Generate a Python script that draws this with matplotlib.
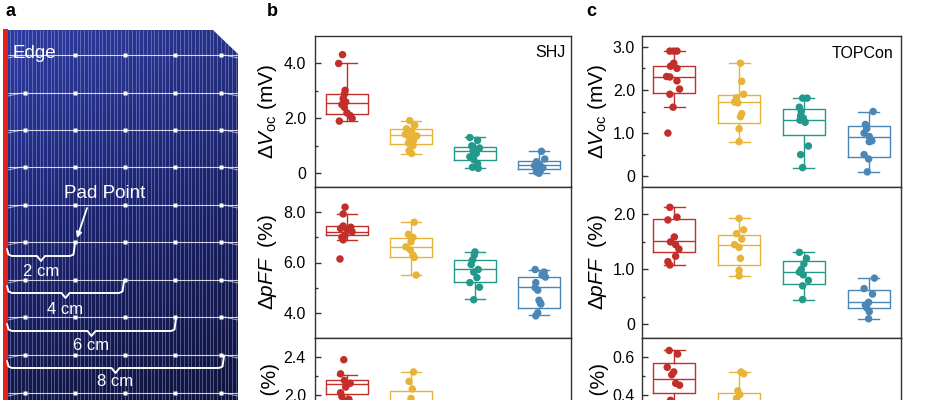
import numpy as np
import matplotlib
matplotlib.use('Agg')
import matplotlib.pyplot as plt
from matplotlib.patches import Polygon, Rectangle
from matplotlib.ticker import FixedLocator, FuncFormatter

plt.rcParams['font.family'] = ['Liberation Sans', 'DejaVu Sans']
plt.rcParams['mathtext.fontset'] = 'custom'
plt.rcParams['mathtext.rm'] = 'Liberation Sans'
plt.rcParams['mathtext.it'] = 'Liberation Sans:italic'
plt.rcParams['mathtext.bf'] = 'Liberation Sans:bold'

# ---------------- data ----------------
group_colors = ['#c22e2a', '#e7b437', '#22998a', '#4a87b6']

# SHJ  dVoc (mV)
shj_voc_pts = [
    [4.32, 4.0, 3.02, 2.88, 2.72, 2.6, 2.5, 2.4, 2.2, 2.1, 2.0, 1.9],
    [1.92, 1.75, 1.62, 1.52, 1.42, 1.36, 1.28, 1.2, 1.1, 1.0, 0.82, 0.72],
    [1.3, 1.2, 1.0, 0.92, 0.82, 0.72, 0.6, 0.5, 0.35, 0.22, 0.18],
    [0.8, 0.52, 0.42, 0.32, 0.28, 0.2, 0.15, 0.1, 0.05, 0.0],
]
shj_voc_dx = [
    [-0.07, -0.13, -0.03, -0.04, -0.06, -0.02, -0.08, -0.04, 0.0, 0.05, 0.08, -0.12],
    [-0.02, 0.06, -0.07, 0.01, -0.09, 0.09, -0.02, 0.04, -0.04, 0.03, -0.03, 0.01],
    [-0.08, 0.04, -0.05, 0.07, -0.03, 0.02, -0.08, -0.02, 0.04, -0.04, 0.05],
    [0.04, 0.09, -0.04, 0.01, -0.07, 0.06, -0.02, 0.02, -0.04, 0.0],
]
# box stats: (whisker low, q1, median, q3, whisker high)
shj_voc_box = [(1.9, 2.15, 2.56, 2.9, 4.0), (0.72, 1.05, 1.41, 1.62, 1.92),
               (0.2, 0.49, 0.8, 0.95, 1.32), (0.0, 0.16, 0.29, 0.45, 0.8)]

# SHJ  dpFF (%)
shj_pff_pts = [
    [8.2, 7.93, 7.45, 7.4, 7.35, 7.3, 7.22, 7.1, 7.0, 6.9, 6.14],
    [7.6, 7.12, 7.0, 6.82, 6.62, 6.5, 6.3, 6.2, 5.5],
    [6.42, 6.3, 6.1, 5.92, 5.72, 5.62, 5.4, 5.2, 5.02, 4.52],
    [5.72, 5.62, 5.5, 5.42, 5.2, 5.0, 4.9, 4.5, 4.4, 4.35, 4.0, 3.88],
]
shj_pff_dx = [
    [-0.03, -0.06, -0.06, 0.06, -0.1, 0.01, 0.08, -0.03, -0.08, -0.06, -0.11],
    [0.05, -0.04, 0.03, 0.0, -0.08, -0.01, 0.03, 0.05, 0.08],
    [0.0, -0.01, -0.04, -0.06, 0.05, -0.02, 0.03, -0.08, 0.07, -0.02],
    [-0.06, 0.08, 0.05, 0.1, -0.05, -0.06, -0.02, 0.0, 0.02, 0.03, -0.02, -0.05],
]
shj_pff_box = [(6.9, 7.08, 7.23, 7.47, 7.92), (5.5, 6.21, 6.62, 6.96, 7.6),
               (4.53, 5.22, 5.74, 6.09, 6.43), (3.9, 4.19, 5.03, 5.44, 5.7)]

# SHJ  third row (%)
shj_eff_pts = [
    [2.37, 2.22, 2.15, 2.12, 2.08, 2.02, 1.98, 1.95, 1.93],
    [2.24, 2.14, 2.06, 1.96, 1.9, 1.85, 1.78, 1.65],
    [1.75, 1.68, 1.6, 1.55, 1.5, 1.45, 1.4, 1.3],
    [1.5, 1.42, 1.38, 1.32, 1.28, 1.22, 1.15],
]
shj_eff_dx = [
    [-0.05, -0.1, -0.04, 0.05, -0.02, -0.1, -0.08, 0.03, -0.02],
    [0.04, -0.03, 0.02, 0.0, -0.05, 0.05, -0.02, 0.03],
    [0.03, -0.04, 0.05, -0.02, 0.02, -0.05, 0.04, 0.0],
    [0.04, -0.03, 0.05, -0.02, 0.02, -0.05, 0.0],
]
shj_eff_box = [(1.93, 2.01, 2.11, 2.15, 2.21), (1.6, 1.8, 1.92, 2.04, 2.24),
               (1.3, 1.42, 1.5, 1.6, 1.75), (1.15, 1.24, 1.3, 1.4, 1.5)]

# TOPCon  dVoc (mV)
top_voc_pts = [
    [2.9, 2.9, 2.9, 2.62, 2.55, 2.5, 2.31, 2.3, 2.21, 2.02, 1.9, 1.6, 1.0],
    [2.62, 2.2, 1.9, 1.82, 1.72, 1.7, 1.45, 1.38, 1.1, 0.8],
    [1.81, 1.81, 1.6, 1.5, 1.4, 1.35, 1.3, 1.25, 0.7, 0.5, 0.2],
    [1.5, 1.2, 1.1, 1.0, 0.92, 0.82, 0.8, 0.5, 0.4, 0.1],
]
top_voc_dx = [
    [-0.07, -0.01, 0.04, -0.01, -0.06, 0.04, -0.12, -0.07, 0.04, 0.08, -0.07, -0.02, -0.1],
    [0.02, 0.04, 0.07, -0.04, -0.07, -0.02, 0.04, 0.02, 0.0, 0.0],
    [-0.02, 0.05, -0.07, -0.04, -0.05, -0.01, -0.06, 0.02, 0.07, -0.05, -0.02],
    [0.07, -0.05, -0.03, -0.07, 0.01, 0.05, 0.01, -0.07, 0.0, -0.02],
]
top_voc_box = [(1.6, 1.94, 2.31, 2.56, 2.9), (0.8, 1.24, 1.71, 1.89, 2.62),
               (0.2, 0.95, 1.3, 1.55, 1.81), (0.1, 0.45, 0.9, 1.16, 1.5)]

# TOPCon  dpFF (%)
top_pff_pts = [
    [2.13, 1.95, 1.9, 1.59, 1.5, 1.45, 1.37, 1.24, 1.14, 1.08],
    [1.93, 1.72, 1.65, 1.55, 1.45, 1.4, 1.2, 0.98, 0.88],
    [1.31, 1.2, 1.1, 1.0, 0.95, 0.9, 0.8, 0.7, 0.45],
    [0.84, 0.65, 0.55, 0.4, 0.35, 0.3, 0.23, 0.1],
]
top_pff_dx = [
    [-0.07, 0.04, -0.1, 0.0, -0.06, 0.02, 0.07, 0.02, -0.1, -0.07],
    [0.0, 0.07, -0.04, 0.04, -0.07, 0.0, 0.02, 0.0, 0.0],
    [-0.07, 0.04, 0.0, -0.04, -0.07, -0.01, 0.07, -0.02, -0.02],
    [0.09, -0.07, 0.06, 0.0, -0.05, -0.03, 0.01, 0.0],
]
top_pff_box = [(1.08, 1.31, 1.52, 1.92, 2.13), (0.88, 1.08, 1.45, 1.62, 1.93),
               (0.45, 0.74, 0.96, 1.15, 1.31), (0.1, 0.29, 0.4, 0.63, 0.84)]

# TOPCon  third row (%)
top_eff_pts = [
    [0.634, 0.615, 0.545, 0.52, 0.505, 0.46, 0.45, 0.37, 0.33],
    [0.52, 0.51, 0.42, 0.4, 0.38, 0.35, 0.3, 0.25],
    [0.3, 0.25, 0.22, 0.2, 0.18, 0.15, 0.1],
    [0.2, 0.15, 0.12, 0.1, 0.08, 0.05],
]
top_eff_dx = [
    [-0.08, 0.05, -0.11, -0.01, -0.04, 0.02, 0.08, -0.06, 0.02],
    [0.03, 0.07, -0.02, 0.01, -0.04, 0.05, 0.0, -0.03],
    [0.03, -0.04, 0.05, -0.02, 0.02, -0.05, 0.0],
    [0.04, -0.03, 0.05, -0.02, 0.02, 0.0],
]
top_eff_box = [(0.3, 0.41, 0.485, 0.566, 0.634), (0.2, 0.28, 0.35, 0.41, 0.52),
               (0.1, 0.15, 0.2, 0.24, 0.3), (0.05, 0.07, 0.1, 0.14, 0.2)]

label_voc = 'Δ$\\mathit{V}_{\\mathrm{oc}}$ (mV)'
label_pff = 'Δ$\\mathit{pFF}$  (%)'
label_eff = 'ΔPCE  (%)'

# ---------------- figure ----------------
fig = plt.figure(figsize=(9.39, 4.0), dpi=100)
W, H = 939.0, 400.0


def fmt(v, pos):
    return '0' if abs(v) < 1e-9 else f'{v:.1f}'


def draw_panel(ax, pts, dxs, boxes, ylim, major, minor, ylabel, tpad):
    for i in range(4):
        lo, q1, med, q3, hi = boxes[i]
        c = group_colors[i]
        st = [dict(whislo=lo, q1=q1, med=med, q3=q3, whishi=hi, fliers=[])]
        lp = dict(color=c, lw=1.0)
        ax.bxp(st, positions=[i + 1], widths=0.65, showfliers=False,
               boxprops=lp, whiskerprops=lp, capprops=lp, medianprops=lp)
        ax.scatter(np.full(len(pts[i]), i + 1.0) + np.array(dxs[i]), pts[i],
                   s=29, color=c, edgecolors='none', zorder=3)
    ax.set_xlim(0.5, 4.5)
    ax.set_ylim(*ylim)
    ax.set_xticks([])
    ax.yaxis.set_major_locator(FixedLocator(major))
    ax.yaxis.set_minor_locator(FixedLocator(minor))
    ax.yaxis.set_major_formatter(FuncFormatter(fmt))
    ax.tick_params(axis='y', which='major', direction='in', length=4, width=1.0,
                   labelsize=11.5, pad=tpad, color='#333333')
    ax.tick_params(axis='y', which='minor', direction='in', length=2.2, width=1.0,
                   color='#333333')
    for s in ax.spines.values():
        s.set_linewidth(1.0)
        s.set_color('#333333')
    ax.set_ylabel(ylabel, fontsize=15, labelpad=3)


row_h = 151 / H
row_bottoms = [1 - 187 / H, 1 - 338 / H, 1 - 489 / H]

# panel b
bl, bw = 315 / W, 256 / W
ax_b = [fig.add_axes([bl, rb, bw, row_h]) for rb in row_bottoms]
draw_panel(ax_b[0], shj_voc_pts, shj_voc_dx, shj_voc_box, (-0.5, 5.0),
           [0, 2, 4], [1, 3], label_voc, 6.5)
draw_panel(ax_b[1], shj_pff_pts, shj_pff_dx, shj_pff_box, (3.0, 9.0),
           [4, 6, 8], [5, 7], label_pff, 6.5)
draw_panel(ax_b[2], shj_eff_pts, shj_eff_dx, shj_eff_box, (1.0, 2.6),
           [1.2, 1.6, 2.0, 2.4], [1.4, 1.8, 2.2], label_eff, 6.5)
ax_b[0].text(0.977, 0.89, 'SHJ', transform=ax_b[0].transAxes, ha='right',
             va='center', fontsize=11.5)

# panel c
cl, cw = 642 / W, 259 / W
ax_c = [fig.add_axes([cl, rb, cw, row_h]) for rb in row_bottoms]
draw_panel(ax_c[0], top_voc_pts, top_voc_dx, top_voc_box, (-0.25, 3.25),
           [0, 1, 2, 3], [0.5, 1.5, 2.5], label_voc, 5.0)
draw_panel(ax_c[1], top_pff_pts, top_pff_dx, top_pff_box, (-0.25, 2.5),
           [0, 1, 2], [0.5, 1.5], label_pff, 5.0)
draw_panel(ax_c[2], top_eff_pts, top_eff_dx, top_eff_box, (-0.1, 0.7),
           [0, 0.2, 0.4, 0.6], [0.1, 0.3, 0.5], label_eff, 5.0)
ax_c[0].text(0.97, 0.887, 'TOPCon', transform=ax_c[0].transAxes, ha='right',
             va='center', fontsize=11.5)

# panel a : illustration of the cell
axa = fig.add_axes([0, 0, 250 / W, 1])
axa.set_xlim(0, 250)
axa.set_ylim(400, 0)
axa.axis('off')

cell_outline = [(8, 30), (213, 30), (238, 54), (238, 400), (8, 400)]
clip = Polygon(cell_outline, closed=True, transform=axa.transData,
               facecolor='none', edgecolor='none')
axa.add_patch(clip)

top_c = np.array([46, 60, 162]) / 255
mid_c = np.array([30, 38, 118]) / 255
bot_c = np.array([20, 24, 72]) / 255
tv = np.linspace(0, 1, 200)[:, None]
hv = np.linspace(0, 1, 120)[None, :]
upper = np.clip(tv * 2, 0, 1)[..., None]
lower = np.clip(tv * 2 - 1, 0, 1)[..., None]
base = np.where(tv[..., None] < 0.5,
                top_c * (1 - upper) + mid_c * upper,
                mid_c * (1 - lower) + bot_c * lower)
shade = (1 - 0.18 * hv)[..., None]
grad = np.clip(base * shade, 0, 1)
im = axa.imshow(grad, extent=(8, 238, 400, 30), aspect='auto', zorder=1,
                interpolation='bilinear')
im.set_clip_path(clip)

finger_x = np.arange(10, 238, 3.7)
fl = axa.vlines(finger_x, 30, 400, color=(0.75, 0.8, 1.0), lw=0.5,
                alpha=0.5, zorder=2)
fl.set_clip_path(clip)

busbar_y = [55, 93, 130, 167, 205, 242, 280, 317, 355, 393]
pad_x = [25, 75, 125, 175, 221]
bb = axa.hlines(busbar_y, 8, 238, color='white', lw=0.8, alpha=0.8, zorder=3)
bb.set_clip_path(clip)
for yb in busbar_y:
    for xp in pad_x:
        if yb == busbar_y[0] and xp == pad_x[0]:
            continue
        axa.plot([xp], [yb], marker='s', ms=2.2, color='white', mec='none',
                 zorder=4)
    axa.plot([8, 22], [yb + 3, yb], color='white', lw=0.6, alpha=0.7, zorder=3)
    axa.plot([224, 238], [yb, yb + 3], color='white', lw=0.6, alpha=0.7,
             zorder=3)

axa.add_patch(Rectangle((3, 29), 5, 371, facecolor='#e2211c',
                        edgecolor='none', zorder=5))

axa.text(12, 53, 'Edge', color='white', fontsize=13.5, ha='left',
         va='center', zorder=6)
axa.text(105, 193, 'Pad Point', color='white', fontsize=13.5, ha='center',
         va='center', zorder=6)
axa.annotate('', xy=(77, 238), xytext=(87, 208), zorder=6,
             arrowprops=dict(arrowstyle='-|>', color='white', lw=1.3,
                             mutation_scale=8, shrinkA=0, shrinkB=0))

brackets = [(7, 75, 256, 242, '2 cm', 271), (7, 124, 293, 280, '4 cm', 309),
            (7, 176, 331, 317, '6 cm', 346), (7, 224, 368, 355, '8 cm', 382)]
for x0, x1, y, ytop, lab, ly in brackets:
    xm = (x0 + x1) / 2
    xs = [x0, x0 + 1.5, x0 + 5, xm - 4, xm, xm + 4, x1 - 5, x1 - 1.5, x1]
    ys = [y - 7, y - 1.5, y, y, y + 5, y, y, y - 1.5, ytop + 1]
    axa.plot(xs, ys, color='white', lw=1.4, solid_joinstyle='round',
             solid_capstyle='round', zorder=6)
    axa.text(xm, ly, lab, color='white', fontsize=12, ha='center',
             va='center', zorder=6)

# panel letters
fig.text(5 / W, 1 - 12 / H, 'a', fontsize=13, fontweight='bold', va='center')
fig.text(267 / W, 1 - 12 / H, 'b', fontsize=13, fontweight='bold', va='center')
fig.text(586 / W, 1 - 12 / H, 'c', fontsize=13, fontweight='bold', va='center')

fig.savefig('out.png', dpi=100)
